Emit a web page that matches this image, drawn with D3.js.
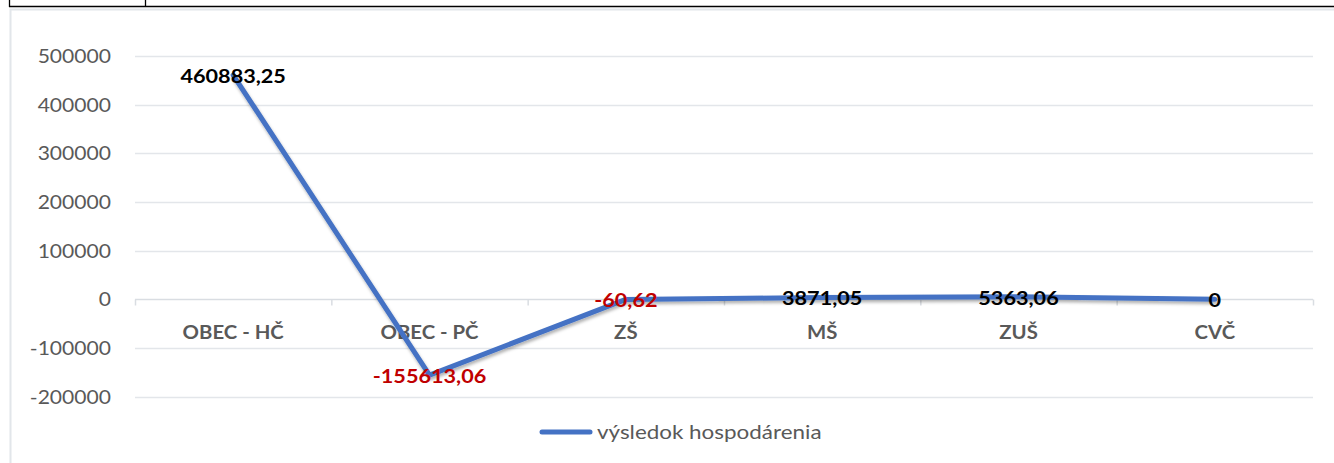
<!DOCTYPE html>
<html>
<head>
<meta charset="utf-8">
<script src="https://cdn.jsdelivr.net/npm/d3@7"></script>
<style>
  html, body { margin: 0; padding: 0; background: #fff; }
  svg { display: block; }
</style>
</head>
<body>
<svg id="chart" width="1334" height="463"></svg>
<script>
const categories = ["OBEC - HČ", "OBEC - PČ", "ZŠ", "MŠ", "ZUŠ", "CVČ"];
const values = [460883.25, -155613.06, -60.62, 3871.05, 5363.06, 0];
const valueLabels = ["460883,25", "-155613,06", "-60,62", "3871,05", "5363,06", "0"];
const yTicks = [-200000, -100000, 0, 100000, 200000, 300000, 400000, 500000];
const seriesName = "výsledok hospodárenia";

const svg = d3.select("#chart");
const font = "Lato, 'Open Sans', sans-serif";

const defs = svg.append("defs");
const f = defs.append("filter").attr("id", "sh").attr("x", "-10%").attr("y", "-10%").attr("width", "120%").attr("height", "120%");
f.append("feDropShadow").attr("dx", 1).attr("dy", 2.5).attr("stdDeviation", 1.6)
  .attr("flood-color", "#000").attr("flood-opacity", 0.3);

// table border fragments at top
svg.append("line").attr("x1", 9).attr("x2", 1334).attr("y1", 6.5).attr("y2", 6.5).attr("stroke", "#000").attr("stroke-width", 1.5);
svg.append("line").attr("x1", 9.5).attr("x2", 9.5).attr("y1", 0).attr("y2", 7).attr("stroke", "#000").attr("stroke-width", 1.3);
svg.append("line").attr("x1", 145.5).attr("x2", 145.5).attr("y1", 0).attr("y2", 7).attr("stroke", "#000").attr("stroke-width", 1.3);

// chart area border
svg.append("path").attr("d", "M10.5,463 V9.5 H1334").attr("fill", "none").attr("stroke", "#e2e6ea").attr("stroke-width", 2);

const x = d3.scaleBand().domain(categories).range([135, 1313]);
const y = d3.scaleLinear().domain([-200000, 500000]).range([396.7, 56]);

// helper: text stretched horizontally (reference glyphs are wider)
function stretched(sel, sx, anchor) {
  sel.attr("transform", d => `translate(${d.x},${d.y}) scale(${sx},1)`)
     .attr("text-anchor", anchor).attr("dy", "0.36em");
}

// gridlines
svg.append("g").selectAll("line").data(yTicks.filter(t => t !== 0)).join("line")
  .attr("x1", 135).attr("x2", 1313)
  .attr("y1", d => Math.round(y(d)) + 0.5).attr("y2", d => Math.round(y(d)) + 0.5)
  .attr("stroke", "#e3e6ea").attr("stroke-width", 1.5);

// y tick labels
svg.append("g").selectAll("text").data(yTicks.map(t => ({t, x: 111, y: y(t)}))).join("text")
  .call(stretched, 1.11, "end")
  .attr("font-family", font).attr("font-size", 19).attr("fill", "#595959")
  .text(d => d.t);

// zero axis
const y0 = Math.round(y(0)) + 0.5;
svg.append("line").attr("x1", 135).attr("x2", 1313).attr("y1", y0).attr("y2", y0)
  .attr("stroke", "#d9dde2").attr("stroke-width", 1.5);
const bounds = categories.map(c => x(c)).concat([x.range()[1]]);
svg.append("g").selectAll("line").data(bounds).join("line")
  .attr("x1", d => d + 0.5).attr("x2", d => d + 0.5).attr("y1", y0).attr("y2", y0 + 6)
  .attr("stroke", "#d9dde2").attr("stroke-width", 1.5);

// category labels
svg.append("g").selectAll("text").data(categories.map(c => ({c, x: x(c) + x.bandwidth() / 2, y: 333}))).join("text")
  .call(stretched, 1.13, "middle")
  .attr("font-family", font).attr("font-size", 18).attr("font-weight", "bold").attr("fill", "#595959")
  .text(d => d.c);

// line
const pts = categories.map((c, i) => [x(c) + x.bandwidth() / 2, y(values[i])]);
svg.append("path").attr("d", d3.line()(pts))
  .attr("fill", "none").attr("stroke", "#4472c4").attr("stroke-width", 5)
  .attr("stroke-linejoin", "round").attr("stroke-linecap", "round")
  .attr("filter", "url(#sh)");

// data labels
svg.append("g").selectAll("text").data(categories.map((c, i) => ({i, x: pts[i][0], y: pts[i][1] + 1}))).join("text")
  .call(stretched, 1.14, "middle")
  .attr("font-family", font).attr("font-size", 19).attr("font-weight", "bold")
  .attr("fill", d => values[d.i] < 0 ? "#c00000" : "#000")
  .text(d => valueLabels[d.i]);

// legend
svg.append("line").attr("x1", 542).attr("x2", 590).attr("y1", 432).attr("y2", 432)
  .attr("stroke", "#4472c4").attr("stroke-width", 5).attr("stroke-linecap", "round");
svg.append("text").datum({x: 597, y: 432})
  .call(stretched, 1.15, "start")
  .attr("font-family", font).attr("font-size", 19.5).attr("fill", "#595959")
  .text(seriesName);
</script>
</body>
</html>
